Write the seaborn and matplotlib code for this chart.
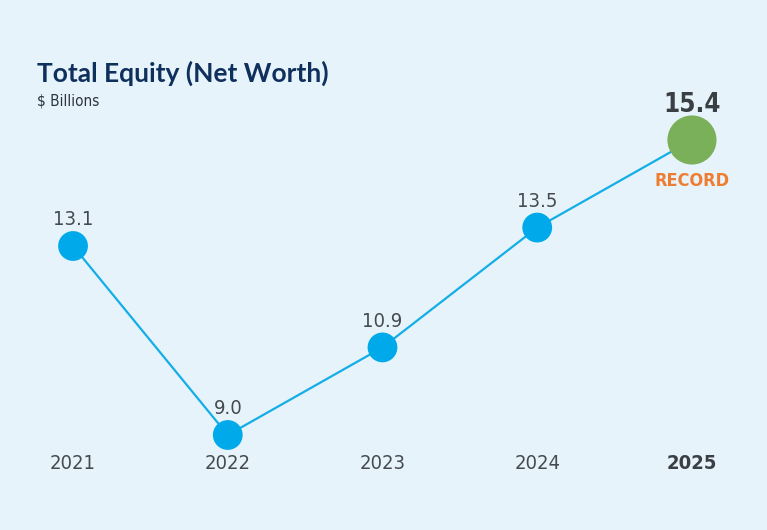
import matplotlib
matplotlib.use("Agg")
import matplotlib.pyplot as plt
import pandas as pd
import seaborn as sns

years = [2021, 2022, 2023, 2024, 2025]
equity = [13.1, 9.0, 10.9, 13.5, 15.4]
year_labels = ["2021", "2022", "2023", "2024", "2025"]
value_labels = ["13.1", "9.0", "10.9", "13.5", "15.4"]

bg = "#e6f3fa"
line_blue = "#14aee6"
dot_blue = "#00aaea"
green = "#7bb05b"
orange = "#ef7d31"
navy = "#0f2f5c"
grey = "#444a50"

sns.set_theme(style="white")
plt.rcParams["font.family"] = ["DejaVu Sans"]
plt.rcParams["font.stretch"] = "condensed"

df = pd.DataFrame({"year": years, "equity": equity})

fig = plt.figure(figsize=(7.67, 5.30), dpi=100, facecolor=bg)
ax = fig.add_axes([0, 0, 1, 1])
ax.set_facecolor(bg)

sns.lineplot(data=df, x="year", y="equity", color=line_blue, lw=1.6, ax=ax, zorder=1)
sns.scatterplot(data=df.iloc[:-1], x="year", y="equity", color=dot_blue, s=460,
                edgecolor="none", ax=ax, zorder=2)
sns.scatterplot(data=df.iloc[-1:], x="year", y="equity", color=green, s=1250,
                edgecolor="none", ax=ax, zorder=3)

ax.set_xlim(2020.528, 2025.485)
ax.set_ylim(6.939, 18.437)
ax.axis("off")

# value labels, the last one highlighted as a record
for i, (x, y, lab) in enumerate(zip(years, equity, value_labels)):
    if i == len(years) - 1:
        ax.annotate(lab, (x, y), xytext=(0, 16), textcoords="offset points",
                    ha="center", va="bottom", fontsize=18.5, fontweight="bold", color="#3a3f44")
        ax.annotate("RECORD", (x, y), xytext=(0, -23), textcoords="offset points",
                    ha="center", va="top", fontsize=13, fontweight="bold", color=orange)
    else:
        ax.annotate(lab, (x, y), xytext=(0, 12), textcoords="offset points",
                    ha="center", va="bottom", fontsize=14.5, color=grey)

# year labels along the bottom
for i, (x, lab) in enumerate(zip(years, year_labels)):
    ax.text(x, 0.126, lab, transform=ax.get_xaxis_transform(), ha="center", va="center",
            fontsize=14.5, color="#3a3f44" if i == 4 else grey,
            fontweight="bold" if i == 4 else "normal")

fig.text(37 / 767, 1 - 73 / 530, "Total Equity (Net Worth)", ha="left", va="center",
         fontsize=19, fontweight="bold", color=navy, family=["Lato", "DejaVu Sans"],
         fontstretch="normal")
fig.text(37 / 767, 1 - 101 / 530, "$ Billions", ha="left", va="center",
         fontsize=11, color="#2b3440")

fig.savefig("out.png", dpi=100, facecolor=bg)
